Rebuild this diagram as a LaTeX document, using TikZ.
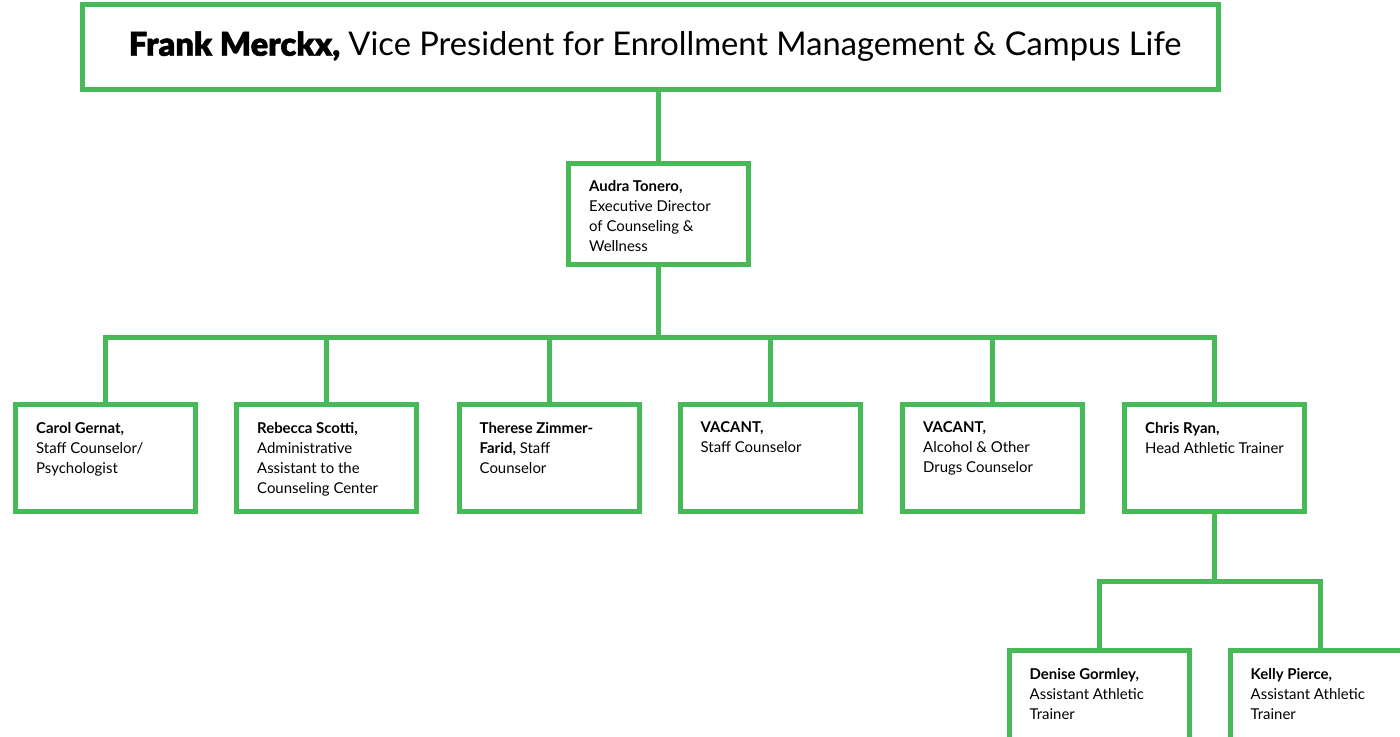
\documentclass[tikz,border=0pt]{standalone}
\usepackage{fontspec}
\setmainfont{Lato}
\newfontfamily\heavyfont{Lato Black}[FakeBold=1.5]
\usetikzlibrary{positioning}
\definecolor{wgreen}{RGB}{72,185,87}
\tikzset{
	card/.style={draw=wgreen,line width=3.75pt,fill=white,minimum width=135pt,minimum height=80pt,inner sep=0pt},
	link/.style={draw=wgreen,line width=3.75pt}
}
\newcommand{\cardtext}[2][54pt]{\parbox[c][#1][t]{104pt}{\fontsize{11.2}{15}\selectfont #2}}

\begin{document}
\begin{tikzpicture}[x=0.75pt,y=-0.75pt]
	\useasboundingbox (0,0) rectangle (1400,736);
	\clip (0,0) rectangle (1400,736);

	\node [card,minimum width=852pt,minimum height=63.75pt] (frank) at (650.5,46.5)
		{\fontsize{24.5}{30}\selectfont\hspace*{7pt}{\heavyfont Frank Merckx,} Vice President for Enrollment Management \& Campus Life};
	\node [card,minimum height=76pt] (audra) at (658.5,214)
		{\cardtext[50pt]{\textbf{Audra Tonero,}\\Executive Director\\of Counseling \&\\Wellness}};

	\node [card] (carol) at (105.5,458) {\cardtext{\textbf{Carol Gernat,}\\Staff Counselor/\\Psychologist}};
	\node [card] (rebecca) at (326.5,458) {\cardtext{\textbf{Rebecca Scotti,}\\Administrative\\Assistant to the\\Counseling Center}};
	\node [card] (therese) at (549,458) {\cardtext{\textbf{Therese Zimmer-\\Farid,} Staff\\Counselor}};
	\node [card] (vacanta) at (770,458) {\cardtext{\textbf{VACANT,}\\Staff Counselor}};
	\node [card] (vacantb) at (992.5,458) {\cardtext{\textbf{VACANT,}\\Alcohol \& Other\\Drugs Counselor}};
	\node [card] (chris) at (1214.5,458) {\cardtext{\textbf{Chris Ryan,}\\Head Athletic Trainer}};

	\node [card] (denise) at (1099,704) {\cardtext{\textbf{Denise Gormley,}\\Assistant Athletic\\Trainer}};
	\node [card] (kelly) at (1320,704) {\cardtext{\textbf{Kelly Pierce,}\\Assistant Athletic\\Trainer}};

	% connectors
	\draw [link] (audra.north) -- (audra.north |- frank.south);
	\path (audra.south) ++(0,70) coordinate (hub);
	\draw [link] (audra.south) -- (hub);
	\foreach \c in {carol,rebecca,therese,vacanta,vacantb,chris}
		\draw [link] (hub) -| (\c.north);
	\path (chris.south) ++(0,68) coordinate (subhub);
	\draw [link] (chris.south) -- (subhub);
	\foreach \c in {denise,kelly}
		\draw [link] (subhub) -| (\c.north);
\end{tikzpicture}
\end{document}
